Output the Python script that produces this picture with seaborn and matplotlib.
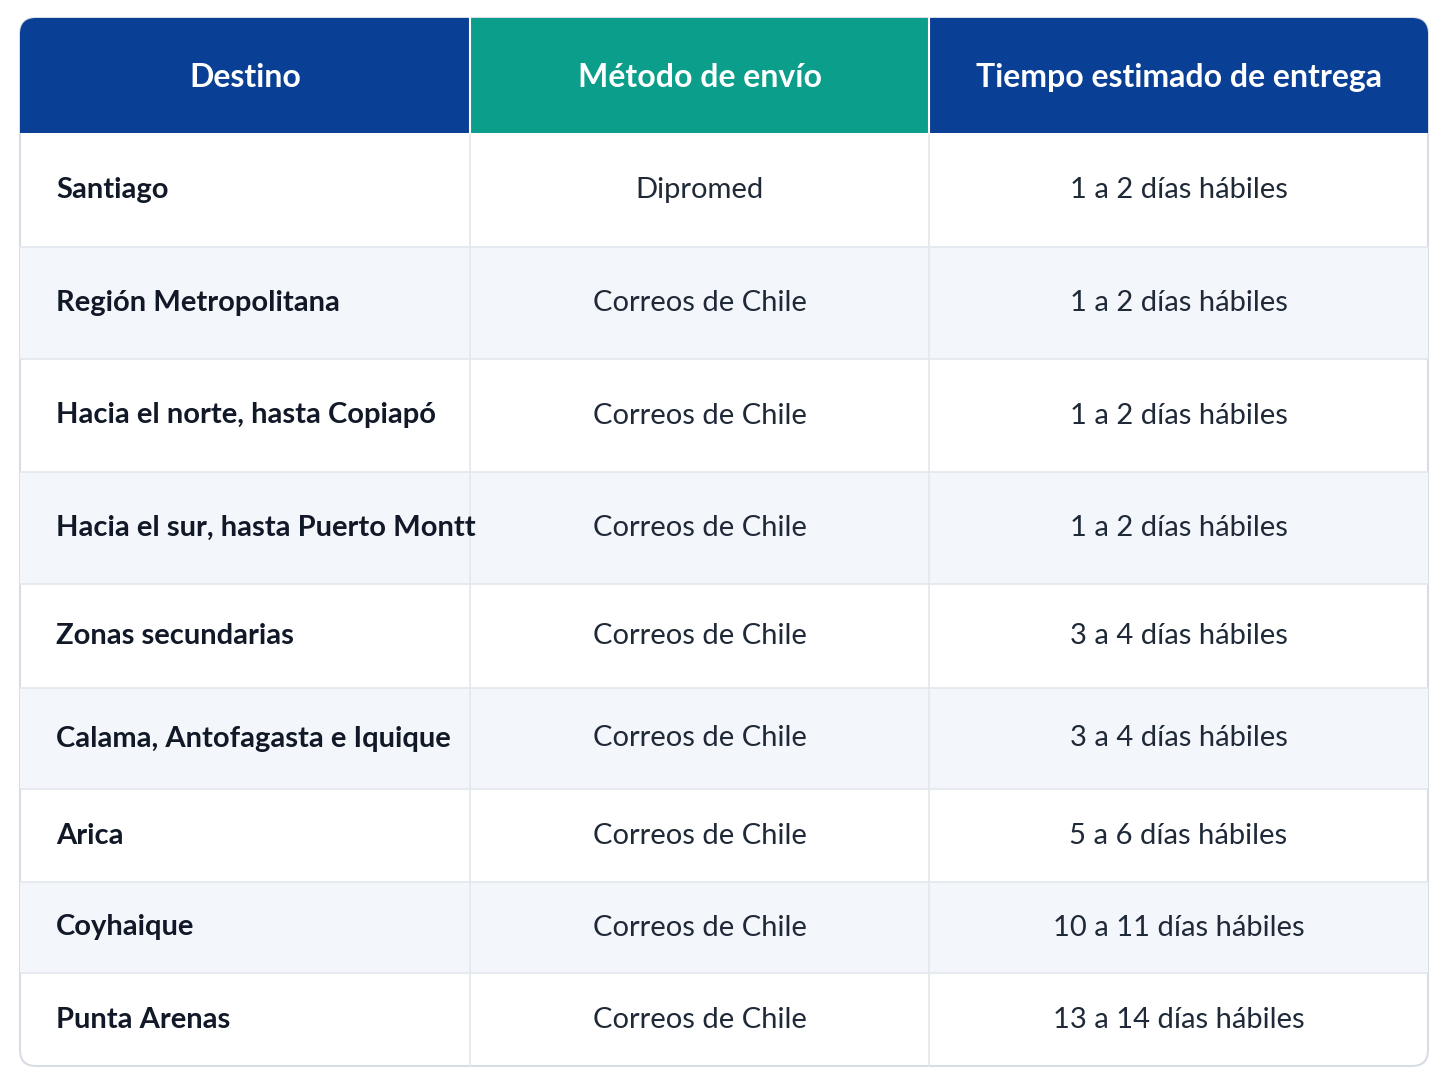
import matplotlib
matplotlib.use("Agg")
import matplotlib.pyplot as plt
import seaborn as sns
from matplotlib.patches import Rectangle, FancyBboxPatch

sns.set_theme(style="white")
plt.rcParams['font.family'] = ['Lato', 'DejaVu Sans']

headers = ["Destino", "Método de envío", "Tiempo estimado de entrega"]
destinos = ["Santiago", "Región Metropolitana", "Hacia el norte, hasta Copiapó",
            "Hacia el sur, hasta Puerto Montt", "Zonas secundarias",
            "Calama, Antofagasta e Iquique", "Arica", "Coyhaique", "Punta Arenas"]
metodos = ["Dipromed"] + ["Correos de Chile"] * 8
tiempos = ["1 a 2 días hábiles"] * 4 + ["3 a 4 días hábiles"] * 2 + \
          ["5 a 6 días hábiles", "10 a 11 días hábiles", "13 a 14 días hábiles"]

col_edges = [20, 470, 929, 1428]
row_edges = [133, 247, 359, 472, 584, 688, 789, 882, 973, 1066]
top = 18
header_colors = ["#0a3f96", "#0a9e8b", "#0a3f96"]

fig = plt.figure(figsize=(14.48, 10.86), dpi=100)
ax = fig.add_axes([0, 0, 1, 1])
ax.set_xlim(0, 1448)
ax.set_ylim(1086, 0)
ax.axis("off")

outer = FancyBboxPatch((20, top), 1408, 1066 - top, boxstyle="round,pad=0,rounding_size=16",
                       facecolor="white", edgecolor="#d8dde5", lw=1.5, zorder=1)
ax.add_patch(outer)

for i, h in enumerate(headers):
    r = Rectangle((col_edges[i], top), col_edges[i+1] - col_edges[i], 133 - top,
                  facecolor=header_colors[i], edgecolor="none", zorder=2)
    r.set_clip_path(outer)
    ax.add_patch(r)
    ax.text((col_edges[i] + col_edges[i+1]) / 2, (top + 133) / 2 + 2, h, color="white",
            fontsize=23, fontweight="bold", ha="center", va="center", zorder=3)

for j in range(len(destinos)):
    y0, y1 = row_edges[j], row_edges[j+1]
    if j % 2 == 1:
        r = Rectangle((20, y0), 1408, y1 - y0, facecolor="#f3f6fb", edgecolor="none", zorder=1.5)
        r.set_clip_path(outer)
        ax.add_patch(r)
    if j > 0:
        ax.plot([20, 1428], [y0, y0], color="#e3e7ee", lw=1.2, zorder=2)
    yc = (y0 + y1) / 2
    ax.text(56, yc, destinos[j], fontsize=21, fontweight="bold", color="#111827",
            ha="left", va="center", zorder=3)
    ax.text((470 + 929) / 2, yc, metodos[j], fontsize=21, color="#1f2937",
            ha="center", va="center", zorder=3)
    ax.text((929 + 1428) / 2, yc, tiempos[j], fontsize=21, color="#1f2937",
            ha="center", va="center", zorder=3)

for x in col_edges[1:-1]:
    ax.plot([x, x], [133, 1066], color="#e3e7ee", lw=1.2, zorder=2)
    ax.plot([x, x], [top, 133], color="white", lw=1.5, zorder=2.5)

fig.savefig("out.png", dpi=100)
